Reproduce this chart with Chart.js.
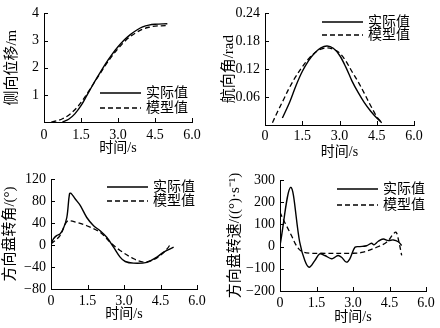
<!DOCTYPE html>
<html>
<head>
<meta charset="utf-8">
<script src="https://cdn.jsdelivr.net/npm/chart.js@4.4.1/dist/chart.umd.min.js"></script>
<style>
  html, body { margin: 0; padding: 0; background: #fff; }
  #wrap { position: relative; width: 440px; height: 328px; }
  .cell { position: absolute; width: 220px; height: 164px; }
</style>
</head>
<body>
<div id="wrap">
  <div class="cell" style="left:0;top:0"><canvas id="c1"></canvas></div>
  <div class="cell" style="left:220px;top:0"><canvas id="c2"></canvas></div>
  <div class="cell" style="left:0;top:164px"><canvas id="c3"></canvas></div>
  <div class="cell" style="left:220px;top:164px"><canvas id="c4"></canvas></div>
</div>
<script>
// ---- données ----
const labelActual = "实际值";
const labelModel  = "模型值";
const xTitle = "时间/s";

// 1) 侧向位移
const latTimeActual = [0.75, 1.0, 1.25, 1.5, 1.75, 2.0, 2.25, 2.5, 2.75, 3.0, 3.25, 3.5, 3.75, 4.0, 4.25, 4.5, 5.0];
const latActual     = [0, 0.1, 0.3, 0.6, 1.0, 1.4, 1.78, 2.15, 2.48, 2.77, 3.02, 3.22, 3.38, 3.5, 3.57, 3.6, 3.62];
const latTimeModel  = [0.3, 0.5, 0.75, 1.0, 1.25, 1.5, 1.75, 2.0, 2.25, 2.5, 2.75, 3.0, 3.25, 3.5, 3.75, 4.0, 4.25, 4.5, 5.0];
const latModel      = [0, 0.04, 0.12, 0.25, 0.45, 0.72, 1.05, 1.4, 1.75, 2.1, 2.42, 2.7, 2.95, 3.15, 3.3, 3.42, 3.49, 3.53, 3.55];

// 2) 航向角
const yawTimeActual = [0.7, 1.0, 1.25, 1.5, 1.75, 2.0, 2.25, 2.5, 2.75, 3.0, 3.25, 3.5, 3.75, 4.0, 4.25, 4.5, 4.7];
const yawActual     = [0.015, 0.05, 0.085, 0.115, 0.138, 0.155, 0.166, 0.17, 0.165, 0.15, 0.125, 0.095, 0.07, 0.048, 0.03, 0.015, 0.005];
const yawTimeModel  = [0.3, 0.5, 0.75, 1.0, 1.25, 1.5, 1.75, 2.0, 2.25, 2.5, 2.75, 3.0, 3.25, 3.5, 3.75, 4.0, 4.25, 4.5, 4.65];
const yawModel      = [0.005, 0.028, 0.055, 0.082, 0.105, 0.125, 0.142, 0.155, 0.163, 0.166, 0.163, 0.155, 0.138, 0.115, 0.093, 0.068, 0.042, 0.018, 0.008];

// 3) 方向盘转角
const swaTimeActual = [0, 0.1, 0.23, 0.37, 0.5, 0.65, 0.76, 0.82, 0.99, 1.2, 1.47, 1.75, 2.02, 2.29, 2.57, 2.84, 3.05, 3.39, 3.94, 4.35, 4.63, 5.04];
const swaActual     = [2, 11, 17, 20, 29, 50, 93, 94, 84, 72, 50, 35, 26, 14, -4, -22, -30, -33, -31.5, -22, -13, -4];
const swaTimeModel  = [0, 0.37, 0.58, 0.71, 1.06, 1.47, 2.02, 2.43, 2.84, 3.4, 3.8, 4.15, 4.49, 4.77, 4.93];
const swaModel      = [2, 17, 38, 44, 41, 35, 23, 5, -10, -25, -31, -28, -19, -7, 3];

// 4) 方向盘转速
const swrTimeActual = [0, 0.44, 0.81, 1.02, 1.2, 1.43, 1.63, 1.84, 2.12, 2.25, 2.39, 2.53, 2.73, 2.87, 3.08, 3.28, 3.56, 3.76, 3.86, 4.04, 4.24, 4.45, 4.66, 4.86, 5.0];
const swrActual     = [5, 267, 20, -63, -93, -63, -33, -40, -55, -48, -40, -48, -70, -55, -3, 0, 4, 15, 8, 24, 34, 27, 30, 22, 5];
const swrTimeModel  = [0, 0.12, 0.26, 0.47, 0.67, 0.88, 1.22, 1.63, 3.0, 3.42, 3.97, 4.38, 4.66, 4.77, 4.86, 5.0];
const swrModel      = [155, 125, 95, 50, 5, -21, -30, -30, -30, -25, -3, 20, 57, 65, 35, -40];

const SERIF = '"Liberation Serif", "Times New Roman", "Noto Sans CJK SC", serif';
const TICK_FONT   = { family: SERIF, size: 14 };
const XTITLE_FONT = { family: SERIF, size: 14 };
const YTITLE_FONT = { family: SERIF, size: 15 };
const LEGEND_FONT = "14px " + SERIF;

const pts = (ts, vs) => ts.map((t, i) => ({ x: t, y: vs[i] }));
const fmtMinus = v => String(v).replace("-", "−");

// petits traits de graduation vers l'intérieur
const innerTicks = {
  id: "innerTicks",
  afterDraw(chart) {
    const { ctx, chartArea: a, scales: { x, y } } = chart;
    ctx.save();
    ctx.strokeStyle = "#000";
    ctx.lineWidth = 1;
    ctx.beginPath();
    x.ticks.forEach(t => {
      const px = Math.round(x.getPixelForValue(t.value)) + 0.5;
      ctx.moveTo(px, a.bottom); ctx.lineTo(px, a.bottom - 4);
    });
    y.ticks.forEach(t => {
      const py = Math.round(y.getPixelForValue(t.value)) + 0.5;
      ctx.moveTo(a.left, py); ctx.lineTo(a.left + 4, py);
    });
    ctx.stroke();
    ctx.restore();
  }
};

// légende dessinée à la main (position libre)
const freeLegend = {
  id: "freeLegend",
  afterDraw(chart, args, opts) {
    const { ctx } = chart;
    ctx.save();
    chart.data.datasets.forEach((ds, i) => {
      const y = opts.ys[i];
      ctx.strokeStyle = "#000";
      ctx.lineWidth = ds.borderWidth;
      ctx.setLineDash(ds.borderDash || []);
      ctx.beginPath();
      ctx.moveTo(opts.x, y); ctx.lineTo(opts.x + 41, y);
      ctx.stroke();
      ctx.setLineDash([]);
      ctx.fillStyle = "#000";
      ctx.font = LEGEND_FONT;
      ctx.textBaseline = "middle";
      ctx.fillText(ds.label, opts.x + 46, y);
    });
    ctx.restore();
  }
};

function makeChart(id, cfg) {
  return new Chart(document.getElementById(id), {
    type: "line",
    data: {
      datasets: [
        { label: labelActual, data: pts(cfg.tA, cfg.vA), borderColor: "#000", borderWidth: 1.4,
          pointRadius: 0, tension: 0.35, fill: false },
        { label: labelModel, data: pts(cfg.tM, cfg.vM), borderColor: "#000", borderWidth: 1.3,
          borderDash: [5, 3], pointRadius: 0, tension: 0.35, fill: false }
      ]
    },
    options: {
      responsive: true,
      maintainAspectRatio: false,
      animation: false,
      layout: { padding: { top: cfg.top, right: cfg.right, left: 0, bottom: 0 } },
      plugins: {
        legend: { display: false },
        tooltip: { enabled: false },
        freeLegend: cfg.legend
      },
      scales: {
        x: {
          type: "linear", min: 0, max: 6,
          grid: { display: false, drawTicks: false },
          border: { display: true, color: "#000", width: 1 },
          ticks: { stepSize: 1.5, color: "#000", font: TICK_FONT, padding: cfg.xPad,
                   callback: v => v === 0 ? "0" : v.toFixed(1) },
          title: { display: true, text: xTitle, color: "#000", font: XTITLE_FONT,
                   padding: { top: 0, bottom: cfg.xTitlePad } },
          afterFit: s => { s.height = cfg.xH; }
        },
        y: {
          type: "linear", min: cfg.yMin, max: cfg.yMax,
          grid: { display: false, drawTicks: false },
          border: { display: true, color: "#000", width: 1 },
          ticks: { stepSize: cfg.yStep, color: "#000", font: TICK_FONT, padding: 5,
                   callback: cfg.yFmt },
          title: { display: true, text: cfg.yTitle, color: "#000", font: YTITLE_FONT,
                   padding: { top: cfg.yTitlePad, bottom: 0 } },
          afterFit: s => { s.width = cfg.yW; }
        }
      }
    },
    plugins: [innerTicks, freeLegend]
  });
}

makeChart("c1", {
  tA: latTimeActual, vA: latActual, tM: latTimeModel, vM: latModel,
  yMin: 0, yMax: 4, yStep: 1, yTitle: "侧向位移/m",
  yFmt: v => v === 0 ? "" : String(v),
  top: 12, right: 28, yW: 44, xH: 42, xPad: 5, xTitlePad: 7, yTitlePad: 3,
  legend: { x: 100, ys: [93, 108] }
});

makeChart("c2", {
  tA: yawTimeActual, vA: yawActual, tM: yawTimeModel, vM: yawModel,
  yMin: 0, yMax: 0.24, yStep: 0.06, yTitle: "航向角/rad",
  yFmt: v => v === 0 ? "" : v.toFixed(2),
  top: 13, right: 26, yW: 45, xH: 39, xPad: 3, xTitlePad: 3, yTitlePad: 0,
  legend: { x: 102, ys: [22, 35] }
});

makeChart("c3", {
  tA: swaTimeActual, vA: swaActual, tM: swaTimeModel, vM: swaModel,
  yMin: -80, yMax: 120, yStep: 40, yTitle: "方向盘转角/(°)",
  yFmt: fmtMinus,
  top: 15, right: 23, yW: 51, xH: 39, xPad: 4, xTitlePad: 5, yTitlePad: 1,
  legend: { x: 107, ys: [23, 37] }
});

makeChart("c4", {
  tA: swrTimeActual, vA: swrActual, tM: swrTimeModel, vM: swrModel,
  yMin: -200, yMax: 300, yStep: 100, yTitle: "方向盘转速/((°)·s⁻¹)",
  yFmt: fmtMinus,
  top: 16, right: 14, yW: 60, xH: 37, xPad: 4, xTitlePad: 2, yTitlePad: 6,
  legend: { x: 117, ys: [25, 41] }
});
</script>
</body>
</html>
